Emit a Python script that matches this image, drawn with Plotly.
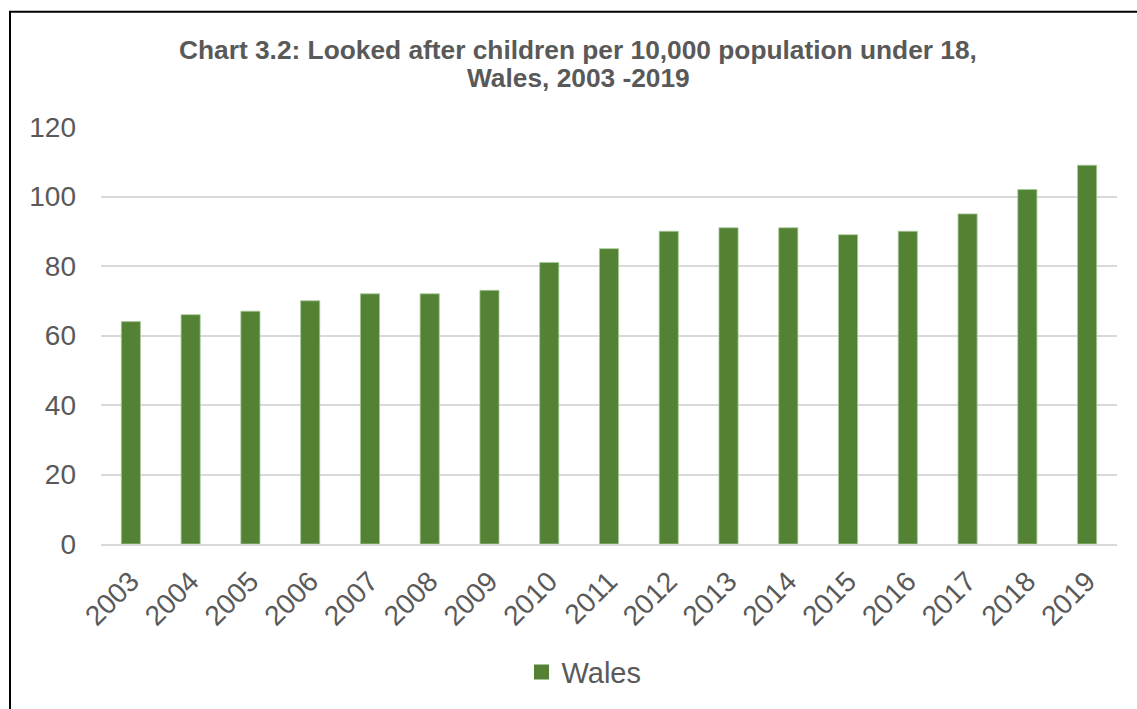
import plotly.graph_objects as go

years = ["2003", "2004", "2005", "2006", "2007", "2008", "2009", "2010", "2011",
         "2012", "2013", "2014", "2015", "2016", "2017", "2018", "2019"]
wales = [64, 66, 67, 70, 72, 72, 73, 81, 85, 90, 91, 91, 89, 90, 95, 102, 109]
y_ticks = [0, 20, 40, 60, 80, 100, 120]
title_lines = ["Chart 3.2: Looked after children per 10,000 population under 18,",
               "Wales, 2003 -2019"]

W, H = 1137, 709
L, R, T, B = 101, 20, 127, 162
pw, ph = W - L - R, H - T - B

text_col = "#595959"
bar_col = "#548235"
font_family = "Liberation Sans, Arial, sans-serif"


def px_x(x):
    return (x - L) / pw


def px_y(y):
    return 1 - (y - T) / ph


fig = go.Figure()
fig.add_trace(go.Bar(
    x=years, y=wales, name="Wales", showlegend=False,
    marker=dict(color=bar_col, line=dict(color="#a9c99a", width=0.8)),
    width=0.32,
))
# legend key drawn as a larger square swatch
fig.add_trace(go.Scatter(
    x=[None], y=[None], name="Wales", mode="markers",
    marker=dict(symbol="square", size=15, color=bar_col),
))

# chart-area border (left and top edges fall inside the page)
fig.add_shape(type="rect", xref="paper", yref="paper",
              x0=px_x(10), x1=px_x(1160), y0=px_y(730), y1=px_y(11),
              line=dict(color="black", width=2), fillcolor="rgba(0,0,0,0)",
              layer="below")

# two-line chart title
for line, yc in zip(title_lines, [49, 78]):
    fig.add_annotation(text=f"<b>{line}</b>", xref="paper", yref="paper",
                       x=px_x(578), y=px_y(yc), xanchor="center", yanchor="middle",
                       showarrow=False,
                       font=dict(size=26.3, color=text_col, family=font_family))

fig.update_layout(
    width=W, height=H,
    margin=dict(l=L, r=R, t=T, b=B, pad=0),
    paper_bgcolor="white", plot_bgcolor="white",
    font=dict(family=font_family, color=text_col),
    showlegend=True,
    legend=dict(orientation="h", x=px_x(584), xanchor="center",
                y=px_y(676), yanchor="middle",
                font=dict(size=29, color=text_col), itemwidth=30),
    bargap=0.68,
    xaxis=dict(tickangle=-45, tickfont=dict(size=28, color=text_col),
               showline=True, linecolor="#d9d9d9", linewidth=1.5,
               ticks="", showgrid=False, ticklabelstandoff=8),
    yaxis=dict(range=[0, 120], tickvals=y_ticks, tickfont=dict(size=28, color=text_col),
               showgrid=True, gridcolor="#d9d9d9", gridwidth=1.5,
               zeroline=False, ticks="", showline=False, ticklabelstandoff=24),
)

fig.write_html("out.html")
